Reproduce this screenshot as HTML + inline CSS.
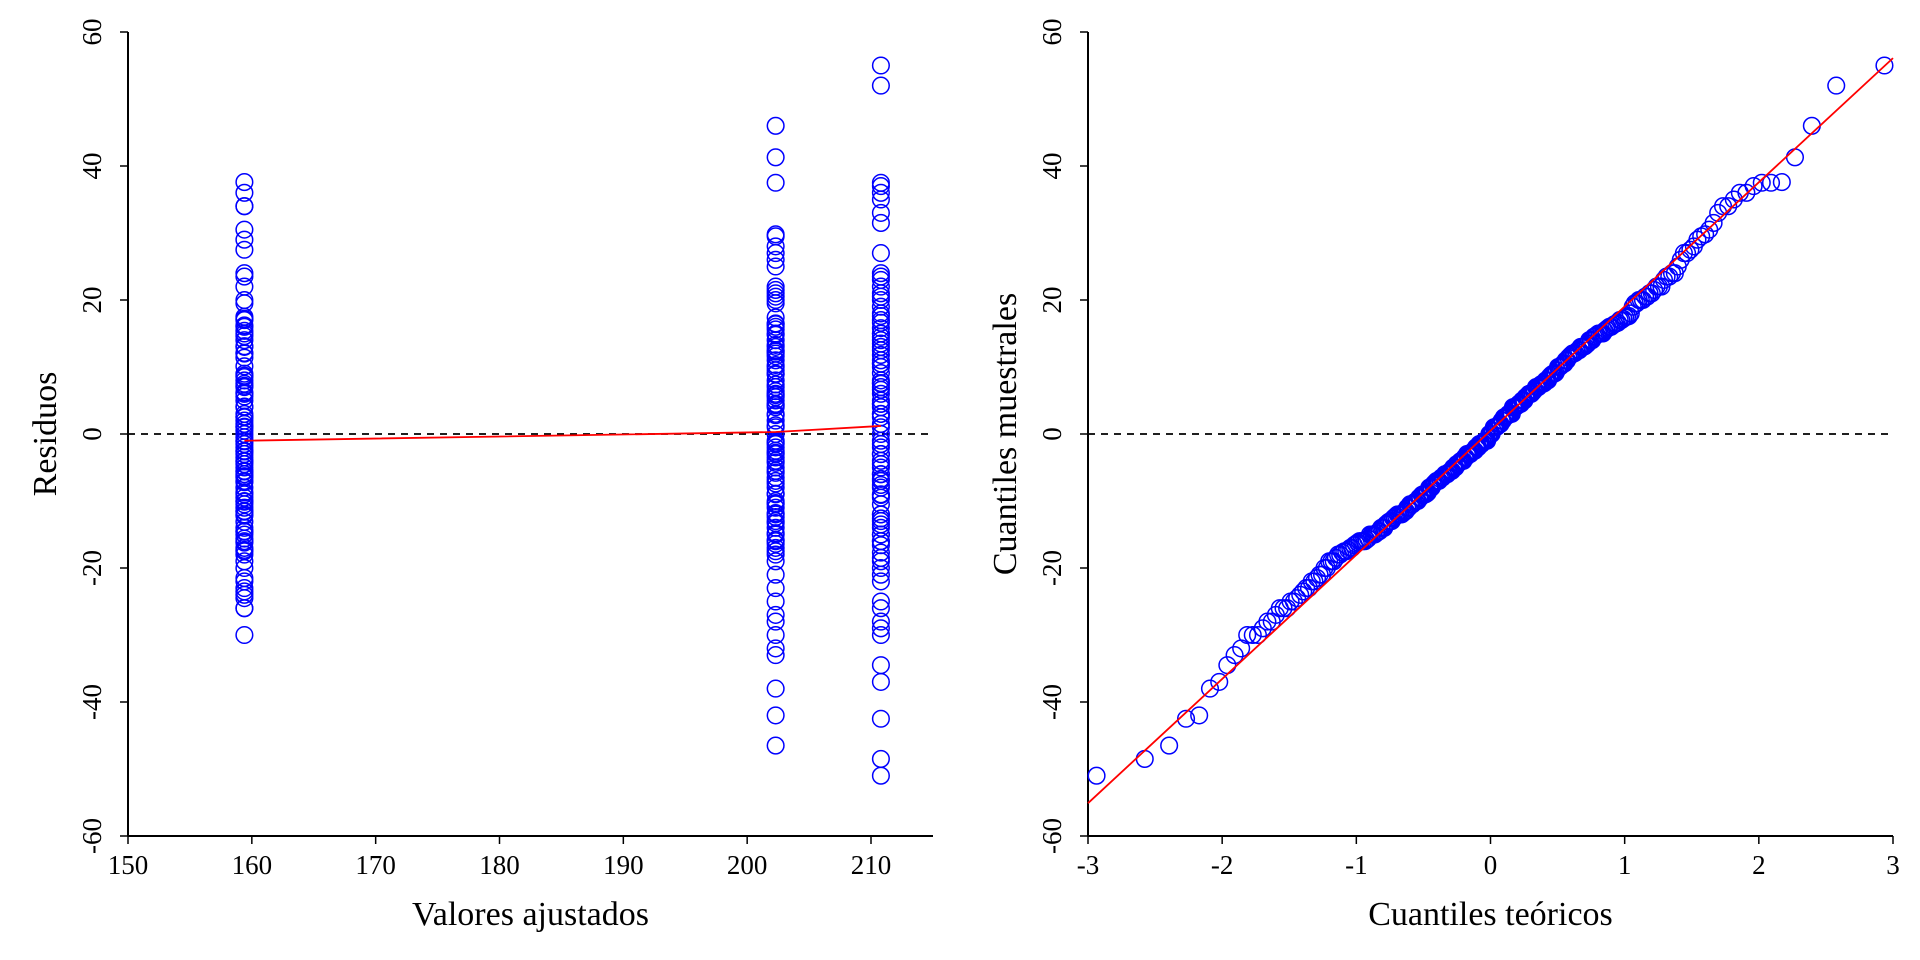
<!DOCTYPE html>
<html><head><meta charset="utf-8"><style>
body{margin:0;background:#fff}
svg{display:block;font-family:"Liberation Serif",serif}
</style></head><body>
<svg id="chart" width="1920" height="960" viewBox="0 0 1920 960"></svg>
<script>
// ---- data ----
const fittedGroups = [159.4, 202.3, 210.8];
const residG1 = [37.6,36,34,34,30.5,29,27.5,24,23.5,22,20,19.5,17.5,17,16,15,14,13,12,9,8.5,8,7.5,7,6,5,4,3,2.5,2,1.5,1,0.5,0,-0.5,-1,-1.5,-2,-2.5,-3,-3.5,-4,-4.5,-5,-5.5,-6,-6.5,-7,-8,-9,-9.5,-10,-10.5,-11,-11.5,-12,-14,-14.5,-15,-16,-17,-17.5,-18,-19,-20,-21.5,-22,-23,-23.5,-24,-24.5,-26,-26,-30,
 16.2,14.6,13.1,11.4,10.1,8.7,7.2,5.6,4.1,2.6,1.1,-1.1,-2.6,-4.1,-5.6,-7.2,-8.7,-10.1,-11.6,-13.1,-14.6,-16.2,17.2,15.4,12.1,6.2,-6.3,-12.2,-15.6,-17.3];
const residG2 = [46,41.3,37.5,29.8,29.5,28,27,26,25,22,21.5,21,20.5,20,19.5,16.5,16,15,14,13,12.5,12,11,10,9.5,9,8,7,6,5.5,5,4.5,4,3,2,1,0,-1,-1.5,-2,-2.5,-3,-3.5,-4,-5,-5.5,-7,-8,-9,-10,-10.5,-11,-12,-13,-14,-15,-16,-17,-18,-19,-21,-23,-25,-27,-28,-30,-32,-33,-38,-42,-46.5,
 16.4,14.8,13.3,11.6,10.3,8.9,7.4,5.8,4.3,2.8,1.3,-1.3,-2.8,-4.3,-5.8,-7.4,-8.9,-10.3,-11.8,-13.3,-14.8,-16.4,17.4,15.6,12.3,6.4,-6.5,-12.4,-15.8,-17.5];
const residG3 = [55,52,37.5,37,36,35,33,31.5,27,24,23.5,23,22,21,20.5,20,19,18,17,15,14.5,14,13,11,10.5,10,8,7.5,7,5,4.5,4,3,2.5,1,0,-1,-2,-3,-4,-5,-6,-7,-8,-9,-9.5,-12,-13,-14,-15,-16,-18.5,-19,-20,-21,-22,-25,-26,-28,-29,-30,-34.5,-37,-42.5,-48.5,-51,
 16.6,15.0,13.5,11.8,10.5,9.1,7.6,6.0,4.5,3.0,1.5,-1.5,-3.0,-4.5,-6.0,-7.6,-9.1,-10.5,-12.0,-13.5,-15.0,-16.6,17.6,15.8,12.5,6.6,-6.7,-12.6,-16.0,-17.7];
const smoothX = [159.4, 202.3, 210.8];
const smoothY = [-1.0, 0.3, 1.2];
const leftXTicks = [150,160,170,180,190,200,210];
const yTicks = [-60,-40,-20,0,20,40,60];
const qqXTicks = [-3,-2,-1,0,1,2,3];

const NS='http://www.w3.org/2000/svg';
const svg=document.getElementById('chart');
function mk(tag,attrs,parent){const e=document.createElementNS(NS,tag);for(const k in attrs)e.setAttribute(k,attrs[k]);(parent||svg).appendChild(e);return e;}

const yTop=32, yBot=836;
function sy(v){return yBot-(v+60)/120*(yBot-yTop);}
function sxL(v){return 128+(v-150)*(871-128)/60;}
function sxR(v){return 1088+(v+3)*(1893-1088)/6;}

function qnorm(p){
 const a=[-39.69683028665376,220.9460984245205,-275.9285104469687,138.3577518672690,-30.66479806614716,2.506628277459239];
 const b=[-54.47609879822406,161.5858368580409,-155.6989798598866,66.80131188771972,-13.28068155288572];
 const c=[-0.007784894002430293,-0.3223964580411365,-2.400758277161838,-2.549732539343734,4.374664141464968,2.938163982698783];
 const d=[0.007784695709041462,0.3224671290700398,2.445134137142996,3.754408661907416];
 const pl=0.02425;let q,r;
 if(p<pl){q=Math.sqrt(-2*Math.log(p));return(((((c[0]*q+c[1])*q+c[2])*q+c[3])*q+c[4])*q+c[5])/((((d[0]*q+d[1])*q+d[2])*q+d[3])*q+1);}
 if(p>1-pl){q=Math.sqrt(-2*Math.log(1-p));return-(((((c[0]*q+c[1])*q+c[2])*q+c[3])*q+c[4])*q+c[5])/((((d[0]*q+d[1])*q+d[2])*q+d[3])*q+1);}
 q=p-0.5;r=q*q;return(((((a[0]*r+a[1])*r+a[2])*r+a[3])*r+a[4])*r+a[5])*q/(((((b[0]*r+b[1])*r+b[2])*r+b[3])*r+b[4])*r+1);
}
function quantile(s,p){const h=(s.length-1)*p,lo=Math.floor(h);return s[lo]+(h-lo)*((s[Math.min(lo+1,s.length-1)])-s[lo]);}

function axes(x0,x1,ticks,sx,xt,yt,prefix){
 const g=mk('g',{});
 
 
 const ya=mk('line',{x1:x0,y1:yTop,x2:x0,y2:yBot,stroke:'#000','stroke-width':2},g);
 
 
 const xa=mk('line',{x1:x0,y1:yBot,x2:x1,y2:yBot,stroke:'#000','stroke-width':2},g);
 
 
 yTicks.forEach(v=>{
  mk('line',{x1:x0-8,y1:sy(v),x2:x0,y2:sy(v),stroke:'#000','stroke-width':1.5},g);
  const t=mk('text',{x:0,y:0,'font-size':27,'text-anchor':'middle',transform:`translate(${x0-33},${sy(v)}) rotate(-90)`,'dominant-baseline':'middle'},g);
  t.textContent=v;
  
  
 });
 ticks.forEach(v=>{
  mk('line',{x1:sx(v),y1:yBot,x2:sx(v),y2:yBot+8,stroke:'#000','stroke-width':1.5},g);
  const t=mk('text',{x:sx(v),y:yBot+38,'font-size':27,'text-anchor':'middle'},g);
  t.textContent=v;
  
  
 });
 const xtl=mk('text',{x:(x0+x1)/2,y:925,'font-size':34,'text-anchor':'middle'},g);
 xtl.textContent=xt;
 
 
 const ytl=mk('text',{x:0,y:0,'font-size':34,'text-anchor':'middle',transform:`translate(${x0-80},${(yTop+yBot)/2}) rotate(-90)`,'dominant-baseline':'middle'},g);
 ytl.textContent=yt;
 
 
 const zl=mk('line',{x1:x0,y1:sy(0),x2:x1,y2:sy(0),stroke:'#000','stroke-width':1.8,'stroke-dasharray':'7,6'},g);
 
 
}

// ---- left panel ----
axes(128,933,leftXTicks,sxL,'Valores ajustados','Residuos','residuals-plot');
const groups=[residG1,residG2,residG3];
const all=[];
groups.forEach((arr,gi)=>{
 arr.forEach(v=>{
  all.push(v);
  const c=mk('circle',{cx:sxL(fittedGroups[gi]),cy:sy(v),r:8.3,fill:'none',stroke:'#0000ff','stroke-width':1.5});
  
  
 });
});
const sm=mk('polyline',{points:smoothX.map((x,i)=>sxL(x)+','+sy(smoothY[i])).join(' '),fill:'none',stroke:'#ff0000','stroke-width':1.8});



// ---- right panel (QQ) ----
axes(1088,1893,qqXTicks,sxR,'Cuantiles teóricos','Cuantiles muestrales','qq-plot');
const sorted=all.slice().sort((a,b)=>a-b);
const n=sorted.length, aa=n<=10?3/8:0.5;
sorted.forEach((v,i)=>{
 const q=qnorm((i+1-aa)/(n+1-2*aa));
 const c=mk('circle',{cx:sxR(q),cy:sy(v),r:8.3,fill:'none',stroke:'#0000ff','stroke-width':1.5});
 
 
});
const y1=quantile(sorted,0.25),y2=quantile(sorted,0.75),x1q=qnorm(0.25),x2q=qnorm(0.75);
const slope=(y2-y1)/(x2q-x1q),icpt=y1-slope*x1q;
const ql=mk('line',{x1:sxR(-3),y1:sy(icpt-3*slope),x2:sxR(3),y2:sy(icpt+3*slope),stroke:'#ff0000','stroke-width':1.8});


</script>
</body></html>
